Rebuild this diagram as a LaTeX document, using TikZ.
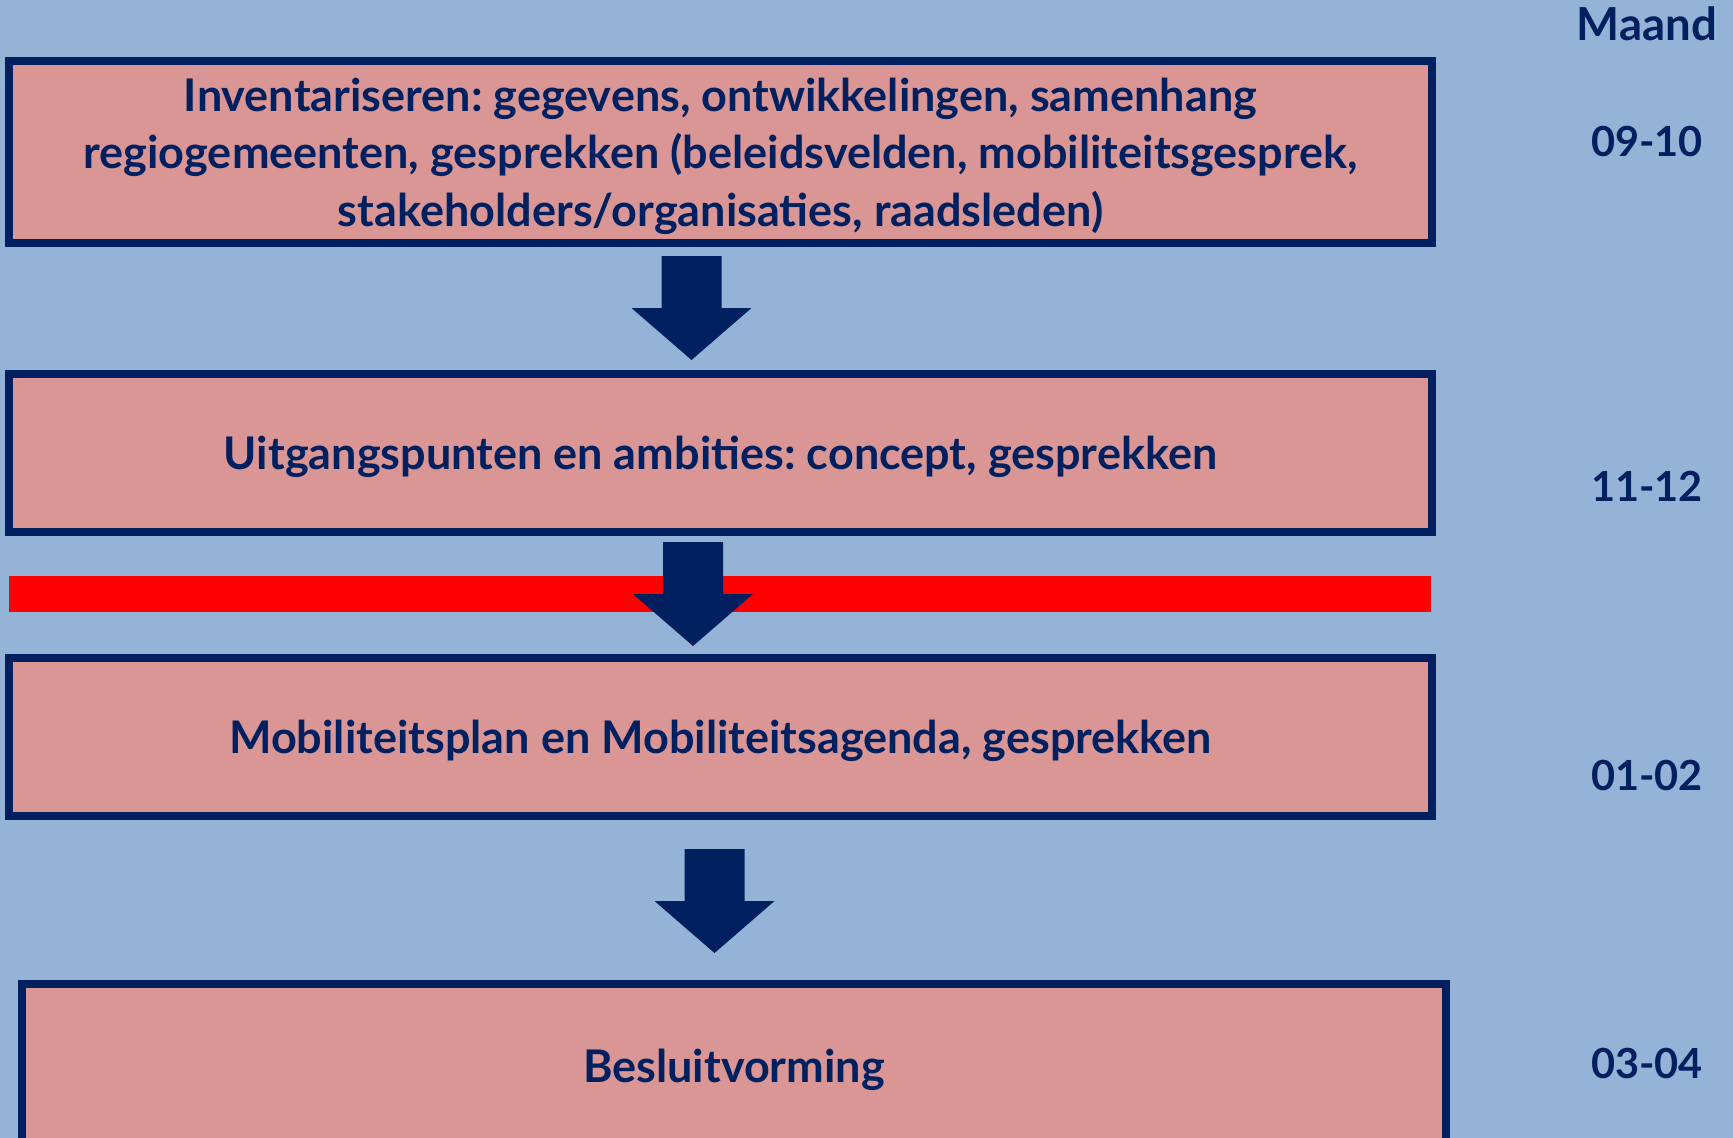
\documentclass[tikz,border=0pt]{standalone}
\usepackage{fontspec}
\setmainfont{Lato}
\frenchspacing
\usepackage{tikz}
\usetikzlibrary{positioning}
\definecolor{achtergrond}{HTML}{95B3D7}
\definecolor{roze}{HTML}{D99694}
\definecolor{donker}{HTML}{002060}
\tikzset{%
  fase/.style  = {shape=rectangle, draw=donker, line width=8pt,%
                  fill=roze, inner sep=0pt, align=center, text depth=0pt,%
                  text=donker, font=\fontsize{45}{57.5}\selectfont\bfseries},%
  maand/.style = {text=donker, inner sep=0pt,%
                  font=\fontsize{41.5}{50}\selectfont\bfseries},%
  blokpijl/.pic = {\fill[donker] (-30,0) -- (30,0) -- (30,52) -- (60,52)%
                   -- (0,104) -- (-60,52) -- (-30,52) -- cycle;}%
}
\begin{document}
\begin{tikzpicture}
              [x=1pt, y=-1pt]
              \useasboundingbox (0,0) rectangle (1733,1138);
              \fill[achtergrond] (0,0) rectangle (1733,1138);
              \clip (0,0) rectangle (1733,1138);
              % -------------- fasen --------------------------------------
              \node[fase, minimum width=1423pt, minimum height=182pt] (inventariseren) at (720.5,152)
              {Inventariseren: gegevens, ontwikkelingen, samenhang\\
               regiogemeenten, gesprekken (beleidsvelden, mobiliteitsgesprek,\\
               stakeholders/organisaties, raadsleden)};
              \node[fase, minimum width=1423pt, minimum height=158pt] (uitgangspunten) at (720.5,453)
              {Uitgangspunten en ambities: concept, gesprekken};
              \node[fase, minimum width=1423pt, minimum height=158pt] (plan) at (720.5,737)
              {Mobiliteitsplan en Mobiliteitsagenda, gesprekken};
              \node[fase, minimum width=1424pt, minimum height=164pt] (besluit) at (734,1066)
              {Besluitvorming};
              % -------------- rode lijn en pijlen --------------------------------------
              \fill[red] (9,576) rectangle (1431,612);
              \pic at (691.5,256) {blokpijl};
              \pic at (693,542) {blokpijl};
              \pic at (714.5,849) {blokpijl};
              % -------------- maanden --------------------------------------
              \node[maand, font=\fontsize{45.5}{55}\selectfont\bfseries] (kop) at (1647,24) {Maand};
              \node[maand] (m1) at (1647,141.5) {09-10};
              \node[maand] (m2) at (1647,486) {11-12};
              \node[maand] (m3) at (1647,775) {01-02};
              \node[maand] (m4) at (1647,1063) {03-04};
\end{tikzpicture}
\end{document}
